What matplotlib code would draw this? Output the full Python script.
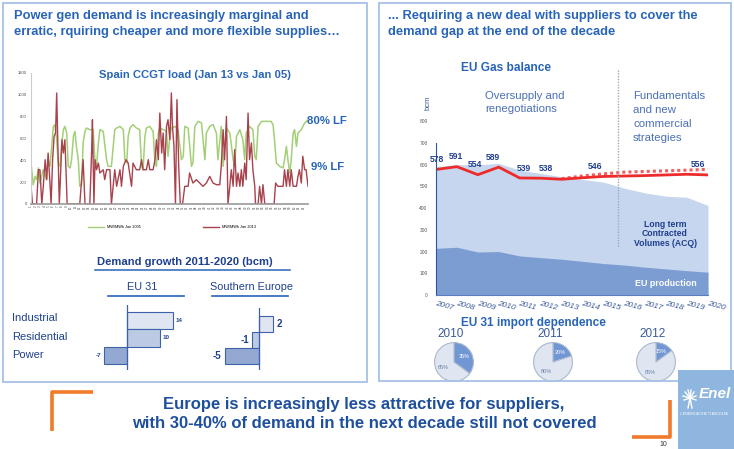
import matplotlib
matplotlib.use("Agg")
import matplotlib.pyplot as plt
from matplotlib.patches import Rectangle
from matplotlib.lines import Line2D

plt.rcParams['font.family'] = ['Liberation Sans', 'DejaVu Sans']

# --- Spain CCGT load (MW), hourly points ---
green_hours = [0, 6, 11, 15, 20, 24, 33, 42, 46, 51,
               55, 60, 64, 69, 73, 78, 82, 87, 91, 96,
               100, 105, 109, 114, 118, 122, 127, 131, 136, 140,
               145, 149, 158, 167, 172, 176, 181, 185, 194, 203,
               207, 216, 225, 230, 239, 248, 252, 257, 261, 266,
               274, 283, 292, 297, 301, 306, 310, 319, 328, 333,
               337, 342, 346, 355, 364, 368, 373, 377, 386, 395,
               404, 409, 413, 422, 431, 435, 440, 449, 458, 467,
               471, 480, 489, 498, 502, 511, 516, 525, 534, 543,
               547, 552, 561, 569, 574, 578, 587, 596, 601, 605,
               610, 619, 632, 645, 650, 654, 659, 668, 677, 681,
               686, 690, 695, 699, 704, 708, 713, 717, 726, 735,
               744]
green_load = [375, 177, 253, 223, 330, 192, 314, 223, 406, 345,
              498, 711, 727, 589, 375, 345, 528, 681, 711, 650,
              345, 330, 406, 620, 665, 528, 406, 162, 177, 559,
              665, 696, 681, 681, 375, 345, 559, 681, 665, 406,
              345, 345, 681, 696, 711, 681, 406, 375, 620, 696,
              727, 696, 681, 345, 314, 620, 696, 711, 665, 375,
              345, 650, 696, 681, 665, 437, 620, 696, 711, 681,
              406, 437, 711, 696, 345, 375, 711, 757, 742, 406,
              650, 711, 727, 650, 406, 711, 345, 696, 650, 406,
              345, 620, 681, 589, 406, 650, 711, 681, 437, 406,
              711, 757, 757, 757, 727, 589, 375, 345, 330, 406,
              528, 406, 284, 406, 650, 681, 528, 650, 681, 742,
              772]
red_hours = [0, 4, 15, 20, 24, 29, 33, 38, 42, 46,
             51, 54, 58, 62, 66, 69, 72, 76, 80, 83,
             87, 91, 94, 97, 131, 140, 145, 158, 163, 165,
             169, 172, 176, 181, 185, 194, 198, 203, 212, 216,
             225, 230, 239, 243, 248, 255, 261, 270, 274, 283,
             292, 297, 301, 310, 315, 319, 328, 333, 337, 342,
             346, 351, 355, 359, 364, 368, 373, 377, 380, 384,
             388, 392, 397, 401, 407, 413, 422, 426, 435, 444,
             453, 462, 471, 480, 489, 498, 507, 511, 516, 520,
             525, 529, 534, 538, 543, 547, 552, 556, 561, 565,
             569, 574, 578, 583, 587, 592, 596, 601, 603, 610,
             614, 619, 623, 628, 653, 657, 663, 677, 681, 686,
             690, 695, 699, 704, 713, 717, 721, 726, 730, 735,
             739, 744]
red_load = [162, 0, 0, 314, 314, 0, 162, 406, 223, 467,
            192, 0, 406, 620, 650, 1017, 559, 0, 314, 589,
            467, 589, 314, 0, 0, 406, 0, 0, 498, 772,
            0, 406, 314, 375, 284, 314, 223, 314, 314, 0,
            314, 162, 314, 162, 345, 406, 375, 162, 375, 314,
            314, 406, 314, 314, 406, 314, 314, 406, 589, 406,
            833, 467, 650, 314, 711, 772, 589, 1017, 711, 528,
            0, 956, 314, 0, 0, 162, 162, 284, 192, 223,
            192, 162, 192, 253, 192, 177, 177, 345, 681, 406,
            803, 0, 162, 314, 162, 498, 162, 284, 162, 314,
            162, 375, 223, 833, 406, 559, 314, 162, 0, 0,
            162, 0, 177, 0, 0, 192, 162, 162, 314, 162,
            314, 162, 314, 162, 162, 253, 314, 192, 437, 314,
            314, 162]

# --- Demand growth 2011-2020 (bcm) ---
sectors = ['Industrial', 'Residential', 'Power']
eu31_growth = [14, 10, -7]
south_growth = [2, -1, -5]

# --- EU gas balance (bcm) ---
years = list(range(2007, 2021))
eu_production = [215, 220, 198, 200, 180, 172, 165, 155, 145, 138, 128, 120, 112, 105]
contracted = [592, 600, 600, 606, 575, 560, 545, 532, 520, 492, 470, 455, 450, 412]
demand = [578, 591, 554, 589, 539, 538, 533, 540, 546, 548, 550, 553, 556, 553]
upside_years = list(range(2013, 2021))
demand_upside = [536, 548, 558, 566, 569, 572, 575, 579]
label_years = [2007, 2008, 2009, 2010, 2011, 2012, 2015, 2019]

# --- EU 31 import dependence (%) ---
pie_years = ['2010', '2011', '2012']
pie_share = [35, 20, 15]

W, H = 734, 449
fig = plt.figure(figsize=(W / 100, H / 100), dpi=100)
BLUE = '#2864b8'
DARK = '#1f3f8f'


def box(x0, y0, x1, y1):
    return [x0 / W, 1 - y1 / H, (x1 - x0) / W, (y1 - y0) / H]


def txt(x, y, s, **kw):
    kw.setdefault('va', 'center')
    fig.text(x / W, 1 - y / H, s, **kw)


def seg(xs, ys, **kw):
    fig.add_artist(Line2D([x / W for x in xs], [1 - y / H for y in ys],
                          transform=fig.transFigure, **kw))


def rect(x0, y0, x1, y1, **kw):
    fig.add_artist(Rectangle((x0 / W, 1 - y1 / H), (x1 - x0) / W, (y1 - y0) / H,
                             transform=fig.transFigure, **kw))


# panels
rect(3, 3, 367, 382, fill=False, ec='#a6c2e6', lw=1.3)
rect(379, 3, 731, 381, fill=False, ec='#a6c2e6', lw=1.3)

# ---------- left panel ----------
txt(14, 16, 'Power gen demand is increasingly marginal and', color=BLUE, fontsize=9.3, fontweight='bold')
txt(14, 32, 'erratic, rquiring cheaper and more flexible supplies…', color=BLUE, fontsize=9.3, fontweight='bold')

ax1 = fig.add_axes(box(31, 73, 308, 204))
ax1.plot(green_hours, green_load, color='#a3cf76', lw=1.1)
ax1.plot(red_hours, red_load, color='#a8424c', lw=1.0)
ax1.set_xlim(0, 744)
ax1.set_ylim(0, 1200)
ax1.set_yticks(range(0, 1201, 200))
ax1.set_xticks(range(0, 744, 12))
ax1.set_xticklabels([str(i + 1) for i in range(62)], rotation=90, fontsize=2.2)
ax1.tick_params(axis='y', labelsize=3, length=0, pad=3, labelcolor='#444444')
ax1.tick_params(axis='x', length=0, pad=1, labelcolor='#444444')
for s in ['top', 'right']:
    ax1.spines[s].set_visible(False)
ax1.spines['left'].set_color('#cccccc')
ax1.spines['bottom'].set_color('#999999')
ax1.spines['bottom'].set_linewidth(1.2)
ax1.set_facecolor('none')

txt(195, 75, 'Spain CCGT load (Jan 13 vs Jan 05)', color=BLUE, fontsize=8.1, fontweight='bold', ha='center')
txt(307, 121, '80% LF', color=BLUE, fontsize=8.2, fontweight='bold')
txt(311, 167, '9% LF', color=BLUE, fontsize=8.2, fontweight='bold')
fig.legend(handles=[Line2D([], [], color='#a3cf76', lw=1), Line2D([], [], color='#a8424c', lw=1)],
           labels=['MW/MWh Jan 2005', 'MW/MWh Jan 2013'], loc='center',
           bbox_to_anchor=(172 / W, 1 - 227 / H), ncol=2, fontsize=2.8, frameon=False,
           handlelength=4, columnspacing=16)

# demand growth
txt(185, 262, 'Demand growth 2011-2020 (bcm)', color=DARK, fontsize=8.1, fontweight='bold', ha='center')
seg([95, 290], [269.5, 269.5], color=BLUE, lw=1.1)
txt(142, 287, 'EU 31', color=DARK, fontsize=7.8, ha='center')
seg([108, 184], [296, 296], color=BLUE, lw=1.2)
txt(252, 287, 'Southern Europe', color=DARK, fontsize=7.8, ha='center')
seg([212, 288], [296, 296], color=BLUE, lw=1.2)
for lab, y in zip(sectors, [318, 337, 355]):
    txt(12, y, lab, color=DARK, fontsize=8)

bar_colors = ['#dfe5f1', '#bccbe3', '#93a9d2']
ypos = [2, 1, 0]

ax2 = fig.add_axes(box(80, 305, 200, 370))
ax2.barh(ypos, eu31_growth, height=1, color=bar_colors, edgecolor='#3c63a9', lw=0.8)
ax2.axvline(0, color='#3c63a9', lw=0.9)
ax2.set_xlim(-47 / 3.25, 73 / 3.25)
ax2.set_ylim(-0.85, 2.9)
for y, v in zip(ypos, eu31_growth):
    ax2.text(v + (1 if v > 0 else -1), y, str(v), ha='left' if v > 0 else 'right', va='center',
             fontsize=4.5, fontweight='bold', color=DARK)
ax2.axis('off')

ax2b = fig.add_axes(box(205, 308, 300, 370))
ax2b.barh(ypos, south_growth, height=1, color=bar_colors, edgecolor='#3c63a9', lw=0.8)
ax2b.axvline(0, color='#3c63a9', lw=0.9)
ax2b.set_xlim(-54 / 6.8, 41 / 6.8)
ax2b.set_ylim(-0.875, 3.0)
for y, v in zip(ypos, south_growth):
    ax2b.text(v + (0.6 if v > 0 else -0.5), y, str(v), ha='left' if v > 0 else 'right', va='center',
              fontsize=7, fontweight='bold', color=DARK)
ax2b.axis('off')

# ---------- right panel ----------
txt(388, 16, '... Requiring a new deal with suppliers to cover the', color=BLUE, fontsize=9.3, fontweight='bold')
txt(388, 32, 'demand gap at the end of the decade', color=BLUE, fontsize=9.3, fontweight='bold')
txt(461, 68, 'EU Gas balance', color=BLUE, fontsize=8.6, fontweight='bold')

ax3 = fig.add_axes(box(436, 121.3, 708, 295))
ax3.fill_between(years, 0, contracted, color='#c6d6ee', lw=0)
ax3.fill_between(years, 0, eu_production, color='#7c9dd2', lw=0)
ax3.plot(upside_years, demand_upside, color='#f06060', lw=2.2, ls=(0, (1, 1)))
ax3.plot(years, demand, color='#ee2b2b', lw=2)
ax3.set_xlim(2007, 2020)
ax3.set_ylim(0, 800)
ax3.set_yticks(range(0, 801, 100))
ax3.set_xticks(years)
ax3.set_xticklabels([str(y) for y in years], rotation=-15, ha='left', rotation_mode='anchor',
                    fontsize=6, style='italic', color='#3a5a9a')
ax3.tick_params(axis='y', labelsize=3.5, length=0, pad=6, labelcolor='#555555')
ax3.tick_params(axis='x', length=0, pad=4)
for s in ['top', 'right']:
    ax3.spines[s].set_visible(False)
ax3.spines['left'].set_bounds(0, 700)
ax3.spines['left'].set_color('#2a55a0')
ax3.spines['bottom'].set_color('#5a7fc0')
ax3.set_facecolor('none')
label_dx = [1, -1, -2, -4, 3, 4, -6, 8]
for yr, dx in zip(label_years, label_dx):
    v = demand[years.index(yr)]
    ax3.annotate(str(v), (yr, v), xytext=(dx, 7), textcoords='offset points', ha='center',
                 va='center', fontsize=6.2, fontweight='bold', color=DARK)

seg([618, 618], [70, 247], color='#a0aabb', lw=1, ls=(0, (1, 1)))
txt(428, 103, 'bcm', color='#3a5a9a', fontsize=5.5, rotation=90, ha='center')
txt(485, 96, 'Oversupply and', color='#4a70b5', fontsize=8.2)
txt(485, 109, 'renegotiations', color='#4a70b5', fontsize=8.2)
for i, s in enumerate(['Fundamentals', 'and new', 'commercial', 'strategies']):
    txt(633, 96 + 14 * i, s, color='#4a70b5', fontsize=8.2)
txt(665, 234, 'Long term\nContracted\nVolumes (ACQ)', color=DARK, fontsize=6.2, fontweight='bold',
    ha='center', linespacing=1.1)
txt(666, 283, 'EU production', color='white', fontsize=6.4, fontweight='bold', ha='center')

# pies
txt(533, 323, 'EU 31 import dependence', color=BLUE, fontsize=8.5, fontweight='bold', ha='center')
for lab, share, cx in zip(pie_years, pie_share, [454, 553, 656]):
    txt(cx - 3, 334, lab, color='#3a5a9a', fontsize=8.5, ha='center')
    axp = fig.add_axes(box(cx - 20, 342, cx + 20, 382))
    wedges, texts, autotexts = axp.pie([share, 100 - share], colors=['#7096d4', '#e0e6f1'],
                                       startangle=90, counterclock=False, autopct='%d%%',
                                       pctdistance=0.6, textprops=dict(fontsize=4),
                                       wedgeprops=dict(ec='#a9b7cf', lw=0.8))
    autotexts[0].set_color('white')
    autotexts[1].set_color('#6a7ea8')
    axp.set_xlim(-1.03, 1.03)
    axp.set_ylim(-1.03, 1.03)

# ---------- bottom ----------
seg([52, 52, 93], [431, 392, 392], color='#f07b2a', lw=2.6, solid_capstyle='butt')
seg([632, 670, 670], [437, 437, 400], color='#f07b2a', lw=2.6, solid_capstyle='butt')
txt(364, 404, 'Europe is increasingly less attractive for suppliers,', color='#1e4f9c',
    fontsize=12, fontweight='bold', ha='center')
txt(364, 424, 'with 30-40% of demand in the next decade still not covered', color='#1e4f9c',
    fontsize=12, fontweight='bold', ha='center')
txt(663, 445, '10', color='#333333', fontsize=5, ha='center')

# logo block
rect(678, 370, 734, 449, color='#8fb6de', lw=0)
for dx, dy in [(-7, -2), (-5, -6), (-2, -8), (1, -8), (4, -6), (6, -2), (-6, 2), (6, 2)]:
    seg([690, 690 + dx], [398, 398 + dy], color='white', lw=1)
seg([690, 688], [398, 408], color='white', lw=1)
seg([690, 692], [398, 408], color='white', lw=1)
txt(699, 394, 'Enel', color='white', fontsize=11, fontweight='bold', style='italic')
txt(680, 414, "L'ENERGIA CHE TI ASCOLTA", color='white', fontsize=2.6)

fig.savefig('out.png', dpi=100)
